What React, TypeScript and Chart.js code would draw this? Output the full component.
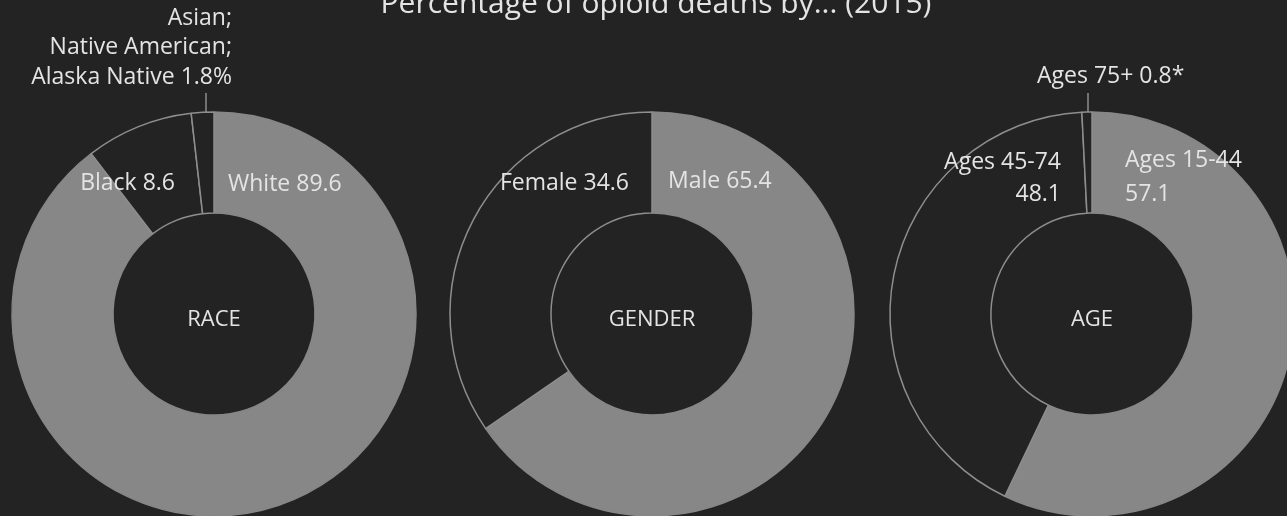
import React, { useEffect, useRef } from "react";
import { Chart, registerables } from "chart.js";

Chart.register(...registerables);

const TITLE = "Percentage of opioid deaths by... (2015)";

const raceCategories = ["White", "Black", "Asian; Native American; Alaska Native"];
const raceValues = [89.6, 8.6, 1.8];

const genderCategories = ["Male", "Female"];
const genderValues = [65.4, 34.6];

const ageCategories = ["Ages 15-44", "Ages 45-74", "Ages 75+"];
const ageValues = [57.1, 42.1, 0.8];
const ageShown = ["57.1", "48.1", "0.8*"];

const BG = "#232323";
const GRAY = "#878787";
const LINE = "#8e8e8e";
const TEXT = "#e4e4e4";
const FONT = "'Open Sans', 'Noto Sans', sans-serif";

type Lbl = { lines: string[]; dx: number; dy: number; align: CanvasTextAlign; step?: number };
type Spec = {
  name: string;
  cx: number;
  cy: number;
  values: number[];
  colors: string[];
  labels: Lbl[];
  leader?: { dx: number; dy1: number; dy2: number };
};

const specs: Spec[] = [
  {
    name: "RACE",
    cx: 214,
    cy: 314,
    values: raceValues,
    colors: [GRAY, BG, BG],
    labels: [
      { lines: [`${raceCategories[0]} ${raceValues[0]}`], dx: 14, dy: -130, align: "left" },
      { lines: [`${raceCategories[1]} ${raceValues[1]}`], dx: -39, dy: -131, align: "right" },
      {
        lines: ["Asian;", "Native American;", `Alaska Native ${raceValues[2]}%`],
        dx: 18,
        dy: -296,
        align: "right",
        step: 29.5,
      },
    ],
    leader: { dx: -8, dy1: -221, dy2: -202 },
  },
  {
    name: "GENDER",
    cx: 652,
    cy: 314,
    values: genderValues,
    colors: [GRAY, BG],
    labels: [
      { lines: [`${genderCategories[0]} ${genderValues[0]}`], dx: 16, dy: -133, align: "left" },
      { lines: [`${genderCategories[1]} ${genderValues[1]}`], dx: -23, dy: -131, align: "right" },
    ],
  },
  {
    name: "AGE",
    cx: 1092,
    cy: 314,
    values: ageValues,
    colors: [GRAY, BG, BG],
    labels: [
      { lines: [ageCategories[0], ageShown[0]], dx: 33, dy: -154, align: "left", step: 34 },
      { lines: [ageCategories[1], ageShown[1]], dx: -31, dy: -152, align: "right", step: 32 },
      { lines: [`${ageCategories[2]} ${ageShown[2]}`], dx: -55, dy: -238, align: "left" },
    ],
    leader: { dx: -4, dy1: -221, dy2: -202 },
  },
];

const CW = 440;
const CH = 628;

function Donut({ spec }: { spec: Spec }) {
  const ref = useRef<HTMLCanvasElement | null>(null);
  useEffect(() => {
    if (!ref.current) return;
    const labelPlugin = {
      id: "donutLabels",
      afterDatasetsDraw(chart: any) {
        const ctx = chart.ctx as CanvasRenderingContext2D;
        const arc = chart.getDatasetMeta(0).data[0];
        const x0 = arc.x;
        const y0 = arc.y;
        ctx.save();
        if (spec.leader) {
          ctx.strokeStyle = LINE;
          ctx.lineWidth = 1.5;
          ctx.beginPath();
          ctx.moveTo(x0 + spec.leader.dx, y0 + spec.leader.dy1);
          ctx.lineTo(x0 + spec.leader.dx, y0 + spec.leader.dy2);
          ctx.stroke();
        }
        ctx.fillStyle = TEXT;
        ctx.textBaseline = "middle";
        ctx.font = `500 23px ${FONT}`;
        for (const l of spec.labels) {
          ctx.textAlign = l.align;
          l.lines.forEach((t, i) => {
            ctx.fillText(t, x0 + l.dx, y0 + l.dy + i * (l.step || 30));
          });
        }
        ctx.font = `500 22px ${FONT}`;
        ctx.textAlign = "center";
        ctx.fillText(spec.name, x0, y0 + 6);
        ctx.restore();
      },
    };
    const chart = new Chart(ref.current, {
      type: "doughnut",
      data: {
        labels: spec.values.map((_, i) => String(i)),
        datasets: [
          {
            data: spec.values,
            backgroundColor: spec.colors,
            borderColor: spec.colors.map((c) => (c === GRAY ? GRAY : LINE)),
            borderWidth: 1.5,
            hoverOffset: 0,
          },
        ],
      },
      options: {
        animation: false,
        responsive: false,
        radius: 202,
        cutout: "50%",
        layout: { padding: 0 },
        plugins: {
          legend: { display: false },
          tooltip: { enabled: false },
          title: { display: false },
        },
        events: [],
      } as any,
      plugins: [labelPlugin],
    });
    return () => chart.destroy();
  }, [spec]);
  return (
    <canvas
      ref={ref}
      width={CW}
      height={CH}
      style={{
        position: "absolute",
        left: spec.cx - CW / 2,
        top: spec.cy - CH / 2,
        width: CW,
        height: CH,
      }}
    />
  );
}

export default function App() {
  return (
    <div
      style={{
        position: "fixed",
        left: 0,
        top: 0,
        width: 1287,
        height: 516,
        overflow: "hidden",
        background: BG,
      }}
    >
      {specs.map((s) => (
        <Donut key={s.name} spec={s} />
      ))}
      <div
        style={{
          position: "absolute",
          left: 0,
          width: 1312,
          top: -18,
          textAlign: "center",
          color: TEXT,
          fontFamily: FONT,
          fontWeight: 500,
          fontSize: 30,
          lineHeight: "40px",
          whiteSpace: "nowrap",
        }}
      >
        {TITLE}
      </div>
    </div>
  );
}
